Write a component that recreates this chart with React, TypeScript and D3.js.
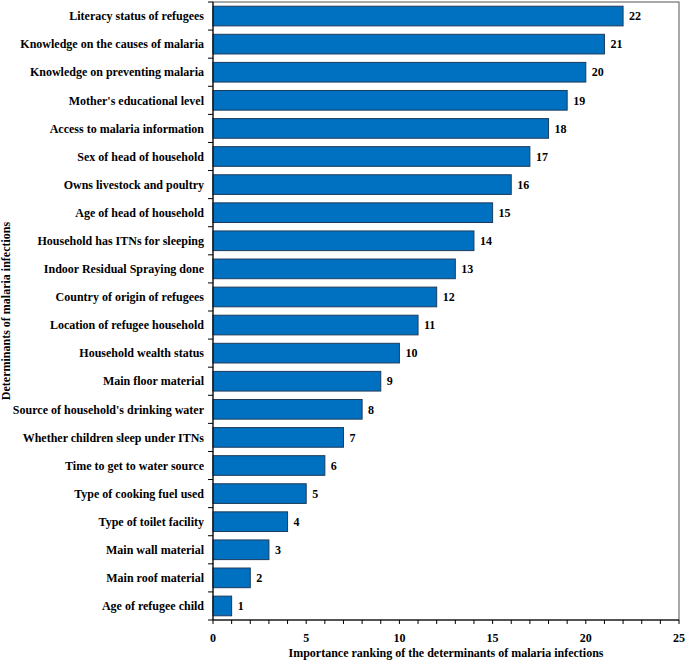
import React from "react";
import * as d3 from "d3";

const categories = [
  "Literacy status of refugees",
  "Knowledge on the causes of malaria",
  "Knowledge on preventing malaria",
  "Mother's educational level",
  "Access to malaria information",
  "Sex of head of household",
  "Owns livestock and poultry",
  "Age of head of household",
  "Household has ITNs for sleeping",
  "Indoor Residual Spraying done",
  "Country of origin of refugees",
  "Location of refugee household",
  "Household wealth status",
  "Main floor material",
  "Source of household's drinking water",
  "Whether children sleep under ITNs",
  "Time to get to water source",
  "Type of cooking fuel used",
  "Type of toilet facility",
  "Main wall material",
  "Main roof material",
  "Age of refugee child",
];
const values = [22, 21, 20, 19, 18, 17, 16, 15, 14, 13, 12, 11, 10, 9, 8, 7, 6, 5, 4, 3, 2, 1];
const xTicks = [0, 5, 10, 15, 20, 25];
const xTitle = "Importance ranking of the determinants of malaria infections";
const yTitle = "Determinants of malaria infections";

const W = 685, H = 660;
const L = 213, R = 679, T = 2, B = 620;
const FONT = "Liberation Serif, Times New Roman, serif";
const FS = 12;

export default function App() {
  const x = d3.scaleLinear().domain([0, 25]).range([L, R]);
  const y = d3.scaleBand<string>().domain(categories).range([T, B]).paddingInner(0.3).paddingOuter(0.15);
  const minor = d3.range(0, 26, 1);
  const bounds = d3.range(0, categories.length + 1).map((i) => T + (B - T) * i / categories.length);
  return (
    <svg width={W} height={H} style={{ position: "absolute", left: 0, top: 0, background: "#fff" }} fontFamily={FONT} fontWeight="bold">
      <rect x={L} y={T} width={R - L} height={B - T} fill="none" stroke="#555" strokeWidth={1} />
      {categories.map((c, i) => (
        <g key={c}>
          <rect x={x(0)} y={y(c)!} width={x(values[i]) - x(0)} height={y.bandwidth()} fill="#0070C0" stroke="#1d3b5c" strokeWidth={1} />
          <text x={x(values[i]) + 6} y={y(c)! + y.bandwidth() / 2} dy="0.35em" fontSize={FS} fill="#000">{values[i]}</text>
          <text x={L - 9} y={y(c)! + y.bandwidth() / 2} dy="0.35em" fontSize={FS} textAnchor="end" fill="#000">{c}</text>
        </g>
      ))}
      {bounds.map((b, i) => (
        <line key={"yt" + i} x1={L - 5} x2={L} y1={b} y2={b} stroke="#000" />
      ))}
      <line x1={L} x2={L} y1={T} y2={B} stroke="#000" />
      <line x1={L} x2={R} y1={B} y2={B} stroke="#000" />
      {minor.map((v) => (
        <line key={"xt" + v} x1={x(v)} x2={x(v)} y1={B} y2={B + 4} stroke="#000" />
      ))}
      {xTicks.map((v) => (
        <text key={"xl" + v} x={x(v)} y={B + 18} dy="0.35em" textAnchor="middle" fontSize={FS} fill="#000">{v}</text>
      ))}
      <text x={(L + R) / 2} y={B + 33} dy="0.35em" textAnchor="middle" fontSize={FS} fill="#000">{xTitle}</text>
      <text transform={`translate(6,${(T + B) / 2}) rotate(-90)`} dy="0.35em" textAnchor="middle" fontSize={FS} fill="#000">{yTitle}</text>
    </svg>
  );
}
